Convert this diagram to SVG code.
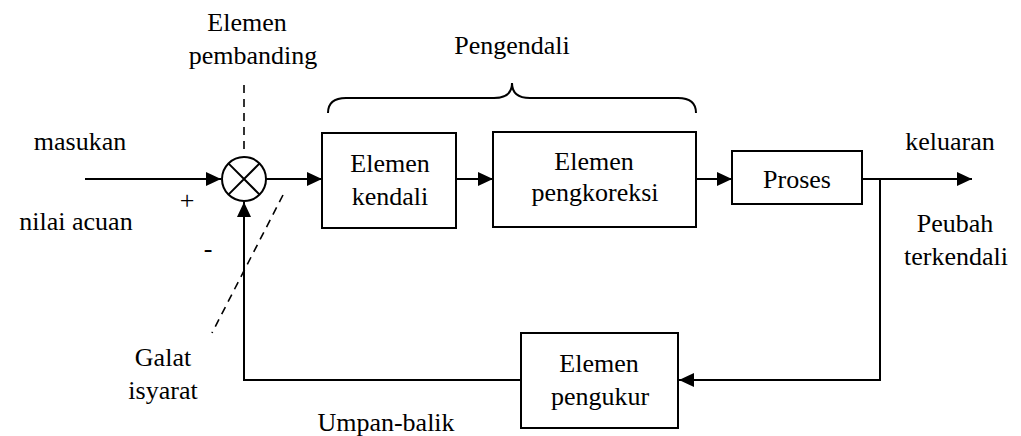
<svg xmlns="http://www.w3.org/2000/svg" width="1021" height="436" viewBox="0 0 1021 436">
<style>
text{font-size:26px;fill:#000;text-anchor:middle}
.box{fill:#fff;stroke:#000;stroke-width:2}
.ln{fill:none;stroke:#000;stroke-width:2}
.dash{fill:none;stroke:#000;stroke-width:1.6;stroke-dasharray:8 6}
</style>
<defs>
<marker id="arr" markerUnits="userSpaceOnUse" markerWidth="16" markerHeight="16" viewBox="0 0 16 16" refX="15" refY="8" orient="auto">
<path d="M0,1 L15,8 L0,15 Z" fill="#000"/>
</marker>
</defs>
<rect width="1021" height="436" fill="#fff"/>

<g id="labels">
<text style="font-family:'Times New Roman','Liberation Serif',serif" x="247" y="31">Elemen</text>
<text style="font-family:'Times New Roman','Liberation Serif',serif" x="253" y="64">pembanding</text>
<text style="font-family:'Times New Roman','Liberation Serif',serif" x="512" y="54">Pengendali</text>
<text style="font-family:'Times New Roman','Liberation Serif',serif" x="80" y="150">masukan</text>
<text style="font-family:'Times New Roman','Liberation Serif',serif" x="76" y="230">nilai acuan</text>
<text style="font-family:'Times New Roman','Liberation Serif',serif" x="187" y="209">+</text>
<text style="font-family:'Times New Roman','Liberation Serif',serif" x="208" y="257">-</text>
<text style="font-family:'Times New Roman','Liberation Serif',serif" x="950" y="150">keluaran</text>
<text style="font-family:'Times New Roman','Liberation Serif',serif" x="955" y="232">Peubah</text>
<text style="font-family:'Times New Roman','Liberation Serif',serif" x="956" y="265">terkendali</text>
<text style="font-family:'Times New Roman','Liberation Serif',serif" x="163" y="366">Galat</text>
<text style="font-family:'Times New Roman','Liberation Serif',serif" x="163" y="399">isyarat</text>
<text style="font-family:'Times New Roman','Liberation Serif',serif" x="386" y="431">Umpan-balik</text>
</g>

<g id="connectors">
<path class="ln" d="M85,179 H221" marker-end="url(#arr)"/>
<path class="ln" d="M266,179 H322" marker-end="url(#arr)"/>
<path class="ln" d="M456,179 H493" marker-end="url(#arr)"/>
<path class="ln" d="M696,179 H732" marker-end="url(#arr)"/>
<path class="ln" d="M862,179 H972" marker-end="url(#arr)"/>
<path class="ln" d="M880,179 V380 H679" marker-end="url(#arr)"/>
<path class="ln" d="M521,380 H244 V202" marker-end="url(#arr)"/>
<path class="dash" d="M244,85 V153"/>
<path class="dash" d="M283,195 L212,333"/>
<path class="ln" d="M328,113 Q328,98 346,98 H494 Q512,98 512,83 Q512,98 530,98 H678 Q696,98 696,113"/>
</g>

<g id="comparator">
<circle cx="244" cy="179" r="22" class="box"/>
<path class="ln" d="M228.4,163.4 L259.6,194.6 M259.6,163.4 L228.4,194.6"/>
</g>

<g id="elemen-kendali">
<rect class="box" x="322" y="133" width="134" height="95"/>
<text style="font-family:'Times New Roman','Liberation Serif',serif" x="390" y="172">Elemen</text>
<text style="font-family:'Times New Roman','Liberation Serif',serif" x="390" y="205">kendali</text>
</g>

<g id="elemen-pengkoreksi">
<rect class="box" x="493" y="132" width="203" height="95"/>
<text style="font-family:'Times New Roman','Liberation Serif',serif" x="594" y="170">Elemen</text>
<text style="font-family:'Times New Roman','Liberation Serif',serif" x="595" y="201">pengkoreksi</text>
</g>

<g id="proses">
<rect class="box" x="732" y="151" width="130" height="53"/>
<text style="font-family:'Times New Roman','Liberation Serif',serif" x="797" y="188">Proses</text>
</g>

<g id="elemen-pengukur">
<rect class="box" x="521" y="333" width="157" height="95"/>
<text style="font-family:'Times New Roman','Liberation Serif',serif" x="599" y="372">Elemen</text>
<text style="font-family:'Times New Roman','Liberation Serif',serif" x="600" y="405">pengukur</text>
</g>
</svg>
